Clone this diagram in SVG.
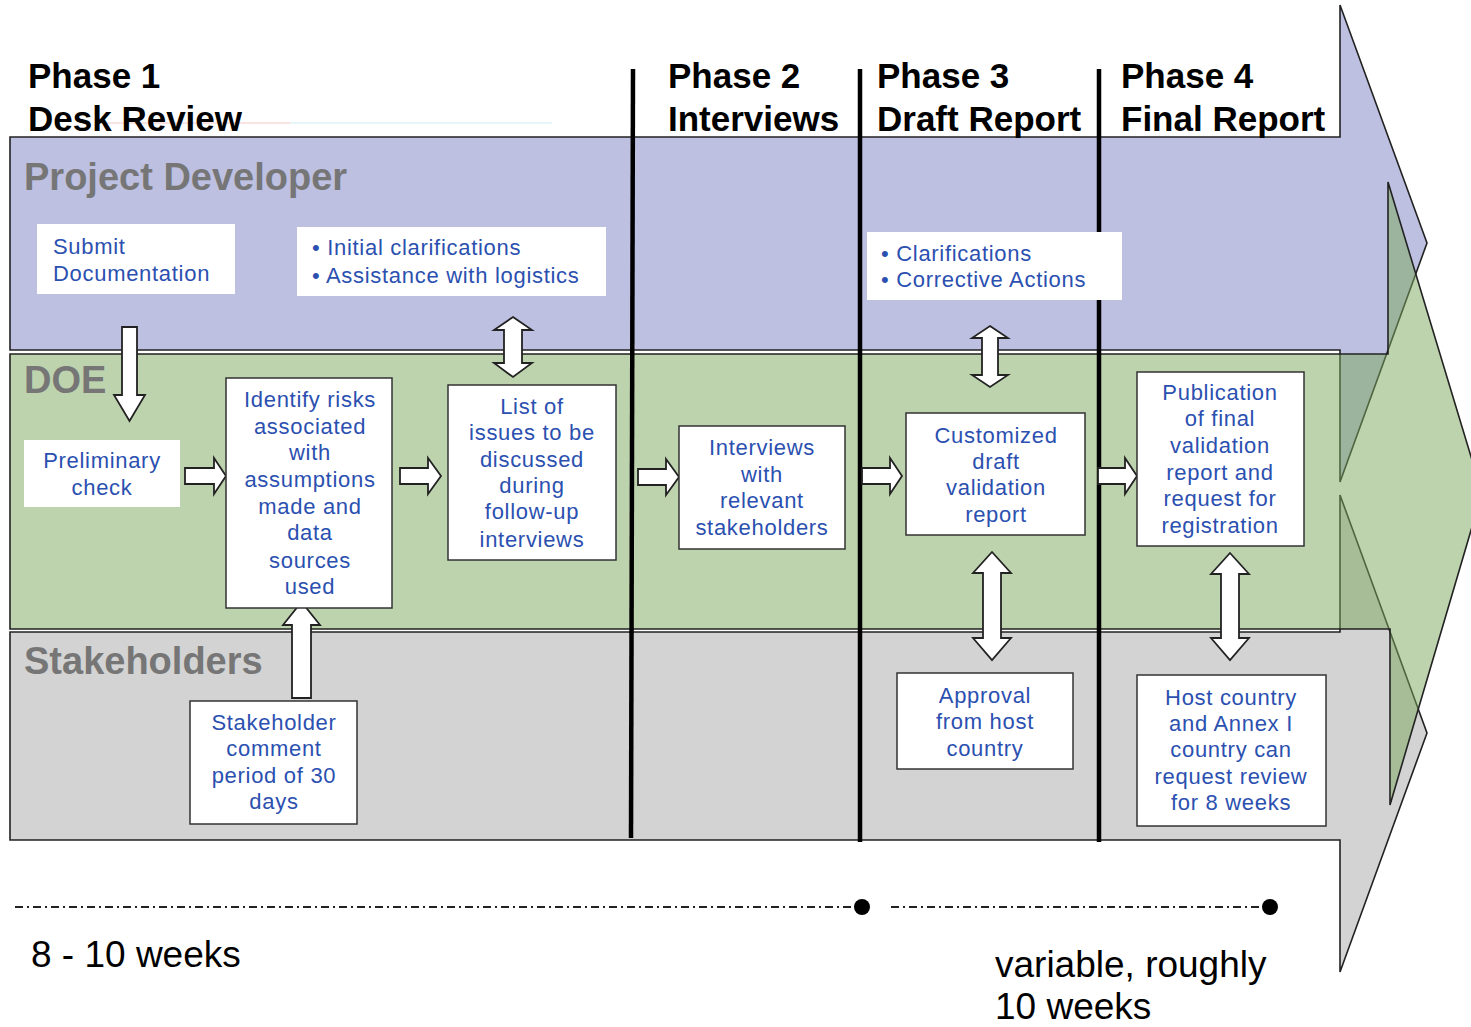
<svg xmlns="http://www.w3.org/2000/svg" width="1471" height="1027" viewBox="0 0 1471 1027">
<style>
.band{stroke:#222;stroke-width:1.6;stroke-linejoin:miter}
.ph{font-family:"Liberation Sans",Arial,sans-serif;font-weight:bold;font-size:35px;fill:#000}
.lane{font-family:"Liberation Sans",Arial,sans-serif;font-weight:bold;font-size:38px;fill:#767676}
.bx{fill:#fff;stroke:#333;stroke-width:1.5}
.bxn{fill:#fff;stroke:none}
.t{font-family:"Liberation Sans",Arial,sans-serif;font-size:22px;letter-spacing:0.7px;fill:#2B50B0}
.c{text-anchor:middle}
.ar{fill:#fff;stroke:#222;stroke-width:1.8;stroke-linejoin:miter}
.div{stroke:#000;stroke-width:4.5}
.big{font-family:"Liberation Sans",Arial,sans-serif;font-size:37px;fill:#000}
</style>
<rect width="1471" height="1027" fill="#fff"/>
<g id="lanes">
<path id="lane-pd" class="band" d="M10,137 L1340,137 L1340,5 L1427,243 L1340,482 L1340,350 L10,350 Z" fill="rgba(123,130,195,0.5)"/>
<path id="lane-sh" class="band" d="M10,632 L1340,632 L1340,495 L1427,733 L1340,972 L1340,840 L10,840 Z" fill="rgba(167,167,167,0.5)"/>
<path id="lane-doe" class="band" d="M10,354 L1388,354 L1388,182 L1482,493 L1390,805 L1390,629 L10,629 Z" fill="rgba(123,167,91,0.5)"/>
</g>
<line x1="100" y1="123" x2="290" y2="123" stroke="#f4c7c7" stroke-width="1"/>
<line x1="290" y1="123" x2="552" y2="123" stroke="#cfeef2" stroke-width="1"/>
<g id="headers">
<text class="ph" x="28" y="88">Phase 1</text>
<text class="ph" x="28" y="131">Desk Review</text>
<text class="ph" x="668" y="88">Phase 2</text>
<text class="ph" x="668" y="131">Interviews</text>
<text class="ph" x="877" y="88">Phase 3</text>
<text class="ph" x="877" y="131">Draft Report</text>
<text class="ph" x="1121" y="88">Phase 4</text>
<text class="ph" x="1121" y="131">Final Report</text>
<text class="lane" x="24" y="190">Project Developer</text>
<text class="lane" x="24" y="393">DOE</text>
<text class="lane" x="24" y="674">Stakeholders</text>
</g>
<g id="dividers">
<line class="div" x1="633" y1="69" x2="631" y2="838"/>
<line class="div" x1="860" y1="69" x2="860" y2="842"/>
<line class="div" x1="1099" y1="69" x2="1099" y2="842"/>
</g>
<g id="connectors">
<path class="ar" d="M122,327 L137,327 L137,395 L145,395 L129.5,421 L114,395 L122,395 Z"/>
<path class="ar" d="M292,698 L292,625 L283,625 L301.5,602 L320,625 L311,625 L311,698 Z"/>
<path class="ar" d="M185,468 L214,468 L214,458 L226,476 L214,494 L214,484 L185,484 Z"/>
<path class="ar" d="M400,468 L428,468 L428,458 L441,476 L428,494 L428,484 L400,484 Z"/>
<path class="ar" d="M638,469 L666,469 L666,459 L679,477 L666,495 L666,485 L638,485 Z"/>
<path class="ar" d="M862,468 L890,468 L890,458 L902,476 L890,494 L890,484 L862,484 Z"/>
<path class="ar" d="M1098,468 L1125,468 L1125,458 L1137,476 L1125,494 L1125,484 L1098,484 Z"/>
<path class="ar" d="M513,317 L532,330 L522,330 L522,363 L532,363 L513,377 L494,363 L504,363 L504,330 L494,330 Z"/>
<path class="ar" d="M990,326 L1008,338 L998,338 L998,375 L1008,375 L990,387 L972,375 L982,375 L982,338 L972,338 Z"/>
<path class="ar" d="M992,552 L1011,573 L1001,573 L1001,638 L1011,638 L992,660 L973,638 L983,638 L983,573 L973,573 Z"/>
<path class="ar" d="M1230,553 L1249,574 L1239,574 L1239,638 L1249,638 L1230,660 L1211,638 L1221,638 L1221,574 L1211,574 Z"/>
</g>
<g id="n-submit"><rect class="bxn" x="37" y="224" width="198" height="70"/>
<text class="t" x="53" y="254">Submit</text><text class="t" x="53" y="281">Documentation</text></g>
<g id="n-initial"><rect class="bxn" x="297" y="227" width="309" height="69"/>
<text class="t" x="312" y="255">• Initial clarifications</text><text class="t" x="312" y="283">• Assistance with logistics</text></g>
<g id="n-clar"><rect class="bxn" x="867" y="232" width="255" height="68"/>
<text class="t" x="881" y="261">• Clarifications</text><text class="t" x="881" y="287">• Corrective Actions</text></g>
<g id="n-prelim"><rect class="bxn" x="24" y="440" width="156" height="67"/>
<text class="t c" x="102" y="468">Preliminary</text><text class="t c" x="102" y="495">check</text></g>
<g id="n-identify"><rect class="bx" x="226" y="378" width="166" height="230"/>
<text class="t c" x="310" y="407">Identify risks</text><text class="t c" x="310" y="434">associated</text><text class="t c" x="310" y="460">with</text><text class="t c" x="310" y="487">assumptions</text><text class="t c" x="310" y="514">made and</text><text class="t c" x="310" y="540">data</text><text class="t c" x="310" y="568">sources</text><text class="t c" x="310" y="594">used</text></g>
<g id="n-list"><rect class="bx" x="448" y="385" width="168" height="175"/>
<text class="t c" x="532" y="414">List of</text><text class="t c" x="532" y="440">issues to be</text><text class="t c" x="532" y="467">discussed</text><text class="t c" x="532" y="493">during</text><text class="t c" x="532" y="519">follow-up</text><text class="t c" x="532" y="547">interviews</text></g>
<g id="n-interviews"><rect class="bx" x="679" y="426" width="166" height="123"/>
<text class="t c" x="762" y="455">Interviews</text><text class="t c" x="762" y="482">with</text><text class="t c" x="762" y="508">relevant</text><text class="t c" x="762" y="535">stakeholders</text></g>
<g id="n-draft"><rect class="bx" x="906" y="413" width="179" height="122"/>
<text class="t c" x="996" y="443">Customized</text><text class="t c" x="996" y="469">draft</text><text class="t c" x="996" y="495">validation</text><text class="t c" x="996" y="522">report</text></g>
<g id="n-publication"><rect class="bx" x="1137" y="372" width="167" height="174"/>
<text class="t c" x="1220" y="400">Publication</text><text class="t c" x="1220" y="426">of final</text><text class="t c" x="1220" y="453">validation</text><text class="t c" x="1220" y="480">report and</text><text class="t c" x="1220" y="506">request for</text><text class="t c" x="1220" y="533">registration</text></g>
<g id="n-comment"><rect class="bx" x="190" y="701" width="167" height="123"/>
<text class="t c" x="274" y="730">Stakeholder</text><text class="t c" x="274" y="756">comment</text><text class="t c" x="274" y="783">period of 30</text><text class="t c" x="274" y="809">days</text></g>
<g id="n-approval"><rect class="bx" x="897" y="673" width="176" height="96"/>
<text class="t c" x="985" y="703">Approval</text><text class="t c" x="985" y="729">from host</text><text class="t c" x="985" y="756">country</text></g>
<g id="n-host"><rect class="bx" x="1137" y="675" width="189" height="151"/>
<text class="t c" x="1231" y="705">Host country</text><text class="t c" x="1231" y="731">and Annex I</text><text class="t c" x="1231" y="757">country can</text><text class="t c" x="1231" y="784">request review</text><text class="t c" x="1231" y="810">for 8 weeks</text></g>
<g id="timeline">
<line x1="15" y1="907" x2="856" y2="907" stroke="#222" stroke-width="2" stroke-dasharray="8 4 2 4"/>
<line x1="891" y1="907" x2="1264" y2="907" stroke="#222" stroke-width="2" stroke-dasharray="8 4 2 4"/>
<circle cx="862" cy="907" r="8" fill="#000"/>
<circle cx="1270" cy="907" r="8" fill="#000"/>
<text class="big" x="31" y="967">8 - 10 weeks</text>
<text class="big" x="995" y="977">variable, roughly</text>
<text class="big" x="995" y="1019">10 weeks</text>
</g>
</svg>
